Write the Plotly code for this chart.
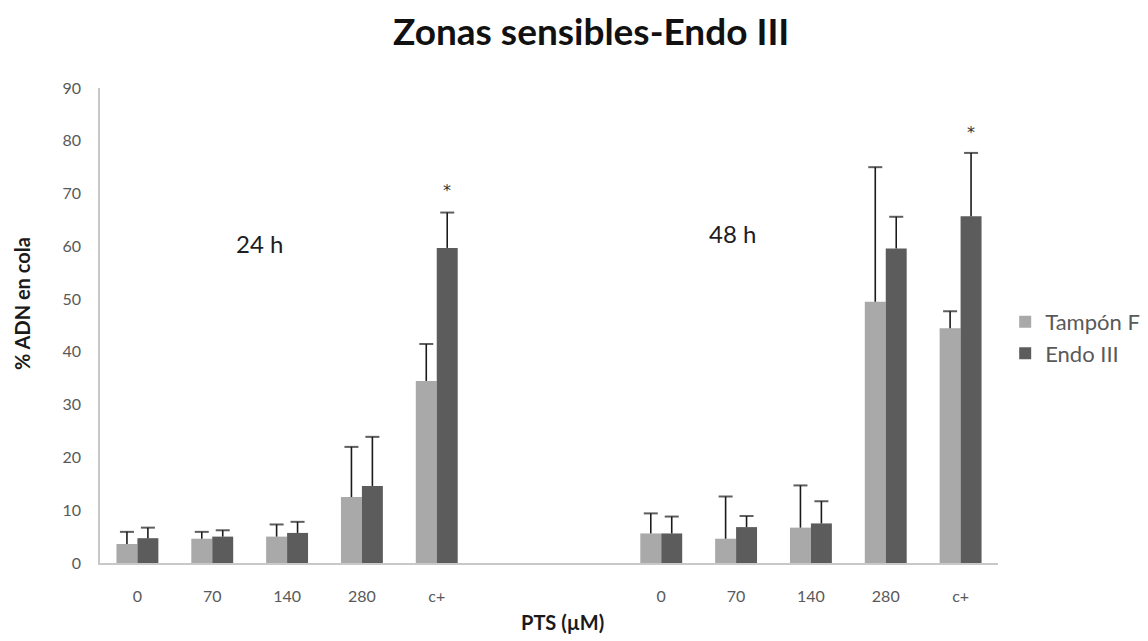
import plotly.graph_objects as go

# Data
doses = ["0", "70", "140", "280", "c+"]
groups = ["24 h", "48 h"]
series_names = ["Tampón F", "Endo III"]

tampon_24 = [3.6, 4.6, 5.0, 12.5, 34.5]
tampon_24_err = [2.3, 1.3, 2.3, 9.5, 7.0]
endo_24 = [4.7, 5.0, 5.7, 14.6, 59.7]
endo_24_err = [2.0, 1.2, 2.1, 9.3, 6.7]

tampon_48 = [5.6, 4.6, 6.7, 49.5, 44.5]
tampon_48_err = [3.8, 8.0, 8.0, 25.5, 3.2]
endo_48 = [5.6, 6.8, 7.5, 59.6, 65.7]
endo_48_err = [3.2, 2.1, 4.2, 6.0, 12.0]

gap_keys = ["gap1", "gap2"]
keys_24 = ["24h|" + d for d in doses]
keys_48 = ["48h|" + d for d in doses]
all_keys = keys_24 + gap_keys + keys_48
tick_text = doses + ["", ""] + doses

light = "#a9a9a9"
dark = "#5c5c5c"
err_color = "#1a1a1a"
font_family = "Lato"

series = [
    (series_names[0], light, tampon_24 + tampon_48, tampon_24_err + tampon_48_err),
    (series_names[1], dark, endo_24 + endo_48, endo_24_err + endo_48_err),
]
data_keys = keys_24 + keys_48

fig = go.Figure()
for i, (name, color, vals, errs) in enumerate(series):
    fig.add_trace(go.Bar(
        name=name, x=data_keys, y=vals, offsetgroup=str(i),
        marker=dict(color=color, line=dict(width=0)),
    ))
for i, (name, color, vals, errs) in enumerate(series):
    ex, ey, es = [], [], []
    for k, v, e in zip(data_keys, vals, errs):
        ex += [k, k, None]
        ey += [v, v + e, None]
        es += [0, 10, 0]
    fig.add_trace(go.Scatter(
        x=ex, y=ey, mode="lines+markers", offsetgroup=str(i), showlegend=False,
        hoverinfo="skip", connectgaps=False,
        line=dict(color=err_color, width=1.6),
        marker=dict(symbol="line-ew-open", size=es, color=err_color,
                    line=dict(color=err_color, width=2)),
    ))

annotations = [
    dict(text=groups[0], xref="paper", yref="y", x=0.178, y=60.6, showarrow=False,
         xanchor="center", yanchor="middle",
         font=dict(family=font_family, size=24, color="#1e1e1e")),
    dict(text=groups[1], xref="paper", yref="y", x=0.704, y=62.5, showarrow=False,
         xanchor="center", yanchor="middle",
         font=dict(family=font_family, size=24, color="#1e1e1e")),
    dict(text="*", xref="x", yref="y", x=keys_24[-1], y=endo_24[-1] + endo_24_err[-1],
         xshift=10, yshift=22, showarrow=False, xanchor="center", yanchor="middle",
         font=dict(family="DejaVu Sans", size=16, color="#333333")),
    dict(text="*", xref="x", yref="y", x=keys_48[-1], y=endo_48[-1] + endo_48_err[-1],
         xshift=10, yshift=20, showarrow=False, xanchor="center", yanchor="middle",
         font=dict(family="DejaVu Sans", size=16, color="#333333")),
    dict(text="<b>PTS (µM)</b>", xref="paper", yref="paper", x=0.515, y=-0.124,
         showarrow=False, xanchor="center", yanchor="middle",
         font=dict(family=font_family, size=20, color="#1a1a1a")),
    dict(text="<b>% ADN en cola</b>", xref="paper", yref="paper", x=-0.087, y=0.547,
         textangle=-90, showarrow=False, xanchor="center", yanchor="middle",
         font=dict(family=font_family, size=20, color="#1a1a1a")),
]

fig.update_layout(
    width=1148, height=641,
    margin=dict(l=100, r=150, t=88, b=78, autoexpand=False),
    paper_bgcolor="white", plot_bgcolor="white",
    title=dict(text="<b>Zonas sensibles-Endo III</b>", x=0.515, xref="container",
               y=1 - 32 / 641, yanchor="middle", xanchor="center",
               font=dict(family=font_family, size=37, color="#111111")),
    barmode="group", bargap=0.44, bargroupgap=0,
    scattermode="group", scattergap=0.44,
    showlegend=True,
    legend=dict(x=1.008, y=0.474, xanchor="left", yanchor="middle",
                font=dict(family=font_family, size=22, color="#595959"),
                bgcolor="rgba(0,0,0,0)", tracegroupgap=4),
    annotations=annotations,
    xaxis=dict(type="category", categoryorder="array", categoryarray=all_keys,
               range=[-0.5, 11.5], tickmode="array", tickvals=all_keys, ticktext=tick_text,
               showline=True, linecolor="#c8c8c8", linewidth=1.5, showgrid=False,
               ticks="", ticklabelstandoff=18,
               tickfont=dict(family=font_family, size=16, color="#595959")),
    yaxis=dict(range=[0, 90], dtick=10, showline=True, linecolor="#c8c8c8",
               linewidth=1.5, showgrid=False, zeroline=False, ticks="",
               ticklabelstandoff=14,
               tickfont=dict(family=font_family, size=16, color="#595959")),
)

fig.write_html("out.html", config={"displayModeBar": False},
               post_script="document.body.style.margin='0';")
